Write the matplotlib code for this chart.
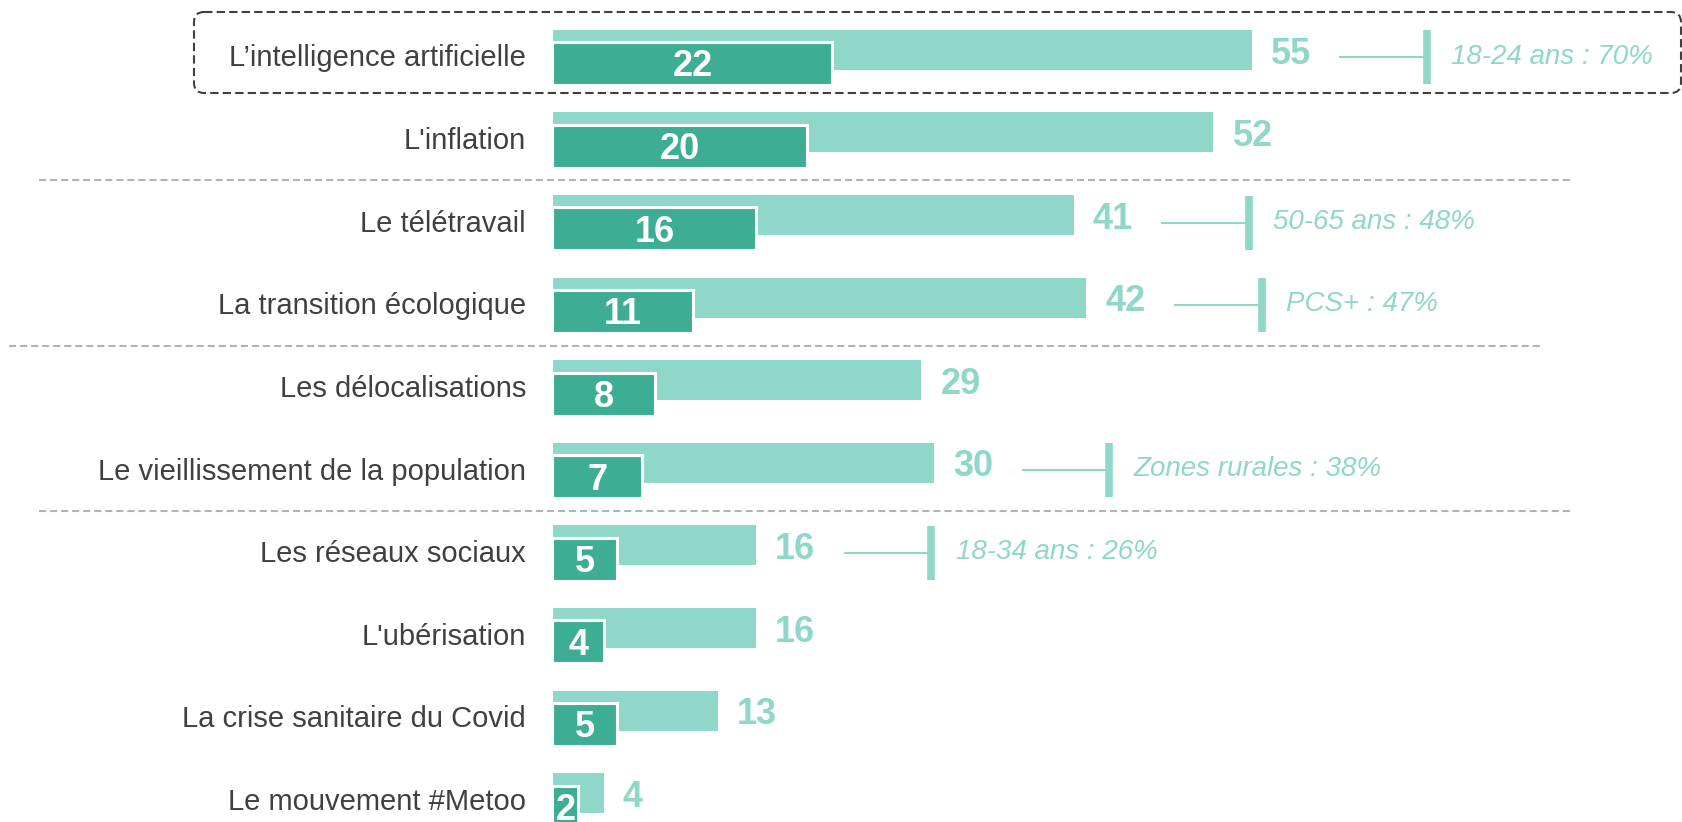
import matplotlib.pyplot as plt
from matplotlib.patches import FancyBboxPatch

plt.rcParams['font.family'] = ['Liberation Sans', 'DejaVu Sans']

# Données
categories = ["L\u2019intelligence artificielle", "L'inflation", "Le télétravail",
              "La transition écologique", "Les délocalisations",
              "Le vieillissement de la population", "Les réseaux sociaux",
              "L'ubérisation", "La crise sanitaire du Covid", "Le mouvement #Metoo"]
total = [55, 52, 41, 42, 29, 30, 16, 16, 13, 4]      # barres claires
premier = [22, 20, 16, 11, 8, 7, 5, 4, 5, 2]         # barres foncées
focus_rows = [0, 2, 3, 5, 6]
focus_text = ["18-24 ans : 70%", "50-65 ans : 48%", "PCS+ : 47%",
              "Zones rurales : 38%", "18-34 ans : 26%"]
group_ends = [1, 3, 5]

light = '#8fd7c8'
dark = '#3dae94'
grey_txt = '#404040'

W, H = 1683, 822
fig = plt.figure(figsize=(W / 100, H / 100), dpi=100)
ax = fig.add_axes([0, 0, 1, 1])
ax.axis('off')

# échelle : 12.7 px par point, départ des barres à 553 px ; 82.6 px par ligne
px_x = 12.7
px_y = 82.6
x0 = 553
y0 = 56.5
ax.set_xlim(-x0 / px_x, (W - x0) / px_x)
ax.set_ylim((H - y0) / px_y, -y0 / px_y)

rows = list(range(len(categories)))
off = 6.75 / px_y
shift = 1.5 / px_x   # pour que le liseré blanc gauche tombe hors de la barre claire

ax.barh([r - off for r in rows], total, height=40 / px_y, left=0,
        color=light, zorder=2)
ax.barh([r + off + 0.5 / px_y for r in rows], [p + shift for p in premier],
        height=43 / px_y, left=-shift,
        color=dark, edgecolor='white', linewidth=2.2, zorder=3)

for r, lab, t, p in zip(rows, categories, total, premier):
    ax.text(-27 / px_x, r + 10 / px_y, lab, ha='right', va='baseline',
            fontsize=21, color=grey_txt)
    ax.text(t + 19 / px_x, r + 7 / px_y, str(t), ha='left', va='baseline',
            fontsize=26, fontweight='bold', color=light, zorder=4)
    ax.text(p / 2, r + 20 / px_y, str(p), ha='center', va='baseline',
            fontsize=26, fontweight='bold', color='white', zorder=4)

# repères pour les sous-populations
for r, txt in zip(focus_rows, focus_text):
    v = total[r]
    ax.plot([v + 6.9, v + 13.8], [r + 1 / px_y, r + 1 / px_y],
            color=light, lw=1.5, solid_capstyle='butt')
    ax.plot([v + 13.8, v + 13.8], [r - 26 / px_y, r + 28 / px_y],
            color=light, lw=5.5, solid_capstyle='butt')
    ax.text(v + 15.7, r + 7 / px_y, txt, ha='left', va='baseline', fontsize=20,
            style='italic', color=light)

# séparateurs de groupes
sep_x = [(39, 1573), (9, 1543), (39, 1573)]
for g, (xa, xb) in zip(group_ends, sep_x):
    ax.plot([(xa - x0) / px_x, (xb - x0) / px_x], [g + 0.5, g + 0.5],
            color='#b3b3b3', lw=1.5, linestyle=(0, (3.4, 1.9)))

# cadre pointillé autour de la première ligne
bx0, bx1 = (194 - x0) / px_x, (1681 - x0) / px_x
by0, by1 = (12 - y0) / px_y, (93 - y0) / px_y
box = FancyBboxPatch((bx0, by0), bx1 - bx0, by1 - by0,
                     boxstyle='round,pad=0,rounding_size=0.8',
                     mutation_aspect=(10 / px_y) / 0.8,
                     fill=False, edgecolor=grey_txt, lw=1.5,
                     linestyle=(0, (4, 2)), zorder=1)
ax.add_patch(box)

fig.savefig('out.png', dpi=100)
